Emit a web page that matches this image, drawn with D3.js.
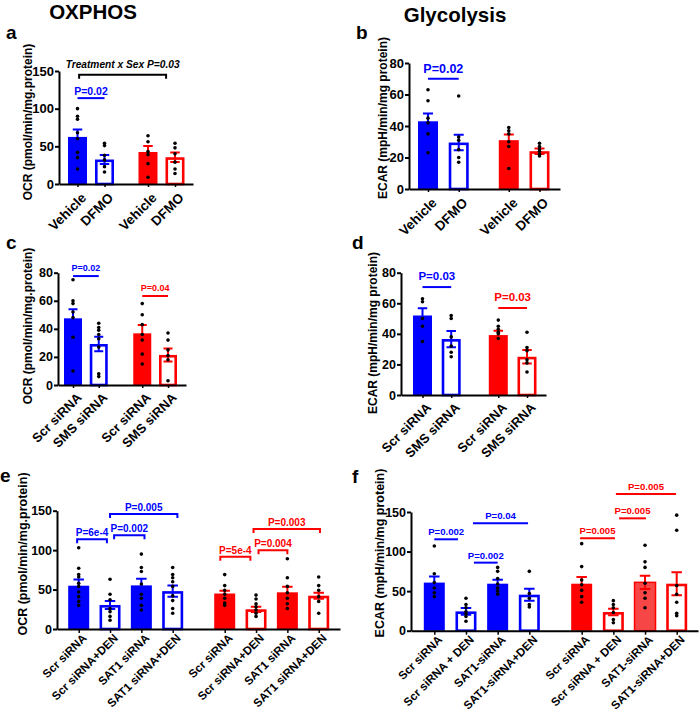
<!DOCTYPE html>
<html><head><meta charset="utf-8">
<script src="https://cdn.jsdelivr.net/npm/d3@7"></script>
<style>
body{margin:0;background:#fff}
svg text{font-family:"Liberation Sans",Arial,sans-serif;font-weight:bold}
</style>
</head><body>
<svg id="chart" width="699" height="715"></svg>
<script>
// ---------------- DATA ----------------
const catsA = ["Vehicle","DFMO","Vehicle","DFMO"];
const meanA = [62.5, 32.5, 42.5, 35.5];
const semA  = [10, 6, 8, 6.2];
const dotsA = [[100,90,86,68,60,42,35,20],[54,51,38,32,23,16],[64,56,43,39,27,9],[54,48,40,29,20,14]];
const ticksA = [0,50,100,150];
const annA = [
  {kind:"bracket", from:0.06, to:2.67, y:145, text:"Treatment x Sex P=0.03", sex:"all"},
  {kind:"line", from:0, to:1, y:114, text:"P=0.02", sex:"M"}
];

const catsB = ["Vehicle","DFMO","Vehicle","DFMO"];
const meanB = [43, 29.5, 31, 24];
const semB  = [4.9, 4.9, 3.6, 1.7];
const dotsB = [[63,56,45,42,35,23],[59,33,31,25,20,17],[39,37,35,30,27,13],[29,27,25,24,22,21]];
const ticksB = [0,20,40,60,80];
const annB = [{kind:"line", from:0, to:1, y:70, text:"P=0.02", sex:"M"}];

const catsC = ["Scr siRNA","SMS siRNA","Scr siRNA","SMS siRNA"];
const meanC = [47.5, 29.2, 36.8, 21.4];
const semC  = [6.4, 5.2, 5.9, 4.6];
const dotsC = [[75,60,58,52,48,34,10],[44,41,39,36,33,27,8,6],[58,50,43,36,32,22,15],[37,32,25,21,18,3]];
const ticksC = [0,20,40,60,80];
const annC = [
  {kind:"line", from:0, to:1, y:77.6, text:"P=0.02", sex:"M"},
  {kind:"line", from:2, to:3, y:63.4, text:"P=0.04", sex:"F"}
];

const catsD = ["Scr siRNA","SMS siRNA","Scr siRNA","SMS siRNA"];
const meanD = [52, 36.6, 39.2, 25];
const semD  = [4.8, 5.3, 2.8, 4.4];
const dotsD = [[63,61,50,45,35],[52,50,38,32,28,25],[49,45,43,41,40,37],[41,31,29,23,21,15]];
const ticksD = [0,20,40,60,80];
const annD = [
  {kind:"line", from:0, to:1, y:70.6, text:"P=0.03", sex:"M"},
  {kind:"line", from:2, to:3, y:56.9, text:"P=0.03", sex:"F"}
];

const catsE = ["Scr siRNA","Scr siRNA+DEN","SAT1 siRNA","SAT1 siRNA+DEN","Scr siRNA","Scr siRNA+DEN","SAT1 siRNA","SAT1 siRNA+DEN"];
const meanE = [54.9, 30.4, 55.3, 48, 45, 25, 46.5, 42.2];
const semE  = [8, 5, 8.5, 7, 3.6, 3.3, 7, 3.8];
const dotsE = [
  [103,77,69,66,58,54,47,41,35,30],
  [63,44,37,26,22,16,11],
  [95,78,73,57,44,39,30,24],
  [78,69,65,60,54,42,36,26,20],
  [69,55,49,44,39,33,30],
  [43,38,32,28,24,20,16],
  [89,65,54,46,39,32,26],
  [66,55,49,41,35,20]
];
const ticksE = [0,50,100,150];
const annE = [
  {kind:"bracket", from:-0.05, to:0.9, y:113.7, text:"P=6e-4", sex:"M"},
  {kind:"bracket", from:1.13, to:2.1, y:119, text:"P=0.002", sex:"M"},
  {kind:"bracket", from:1, to:3.15, y:145.8, text:"P=0.005", sex:"M"},
  {kind:"bracket", from:3.86, to:4.82, y:91.7, text:"P=5e-4", sex:"F"},
  {kind:"bracket", from:5.08, to:6, y:100, text:"P=0.004", sex:"F"},
  {kind:"bracket", from:4.92, to:7.04, y:126.8, text:"P=0.003", sex:"F"}
];

const catsF = ["Scr siRNA","Scr siRNA + DEN","SAT1-siRNA","SAT1-siRNA+DEN","Scr siRNA","Scr siRNA + DEN","SAT1-siRNA","SAT1-siRNA+DEN"];
const meanF = [60.8, 24.4, 59.4, 45.5, 59.4, 23.6, 61.1, 59.4];
const semF  = [7.6, 4.3, 5, 7.5, 8.4, 4.2, 8.4, 14.6];
const dotsF = [
  [107,72,61,54,48,43],
  [41,33,29,24,21,18,12],
  [80,75,66,59,54,50,46],
  [75,47,41,33,30],
  [110,81,64,58,51,43,36],
  [38,33,29,23,14,10],
  [108,87,80,60,48,41,29],
  [146,127,57,46,36,22,19]
];
const ticksF = [0,50,100,150];
const annF = [
  {kind:"line", from:0, to:0.75, y:115.5, text:"P=0.002", sex:"M"},
  {kind:"line", from:1.25, to:2.0, y:86, text:"P=0.002", sex:"M"},
  {kind:"line", from:1.22, to:2.96, y:135.7, text:"P=0.04", sex:"M"},
  {kind:"line", from:3.95, to:5.05, y:116.8, text:"P=0.005", sex:"F"},
  {kind:"line", from:5.18, to:6.03, y:142, text:"P=0.005", sex:"F"},
  {kind:"line", from:5.08, to:6.98, y:172.8, text:"P=0.005", sex:"F"}
];

const labelOCR = "OCR (pmol/min/mg.protein)";
const labelECAR = "ECAR (mpH/min/mg protein)";

// ---------------- STYLE / LAYOUT ----------------
const BLUE = "#0000ff", RED = "#ff0000", LIGHTRED = "#f64646";
const svg = d3.select("#chart");

const panels = [
  {letter:"a", cats:catsA, means:meanA, sems:semA, dots:dotsA, ticks:ticksA, ann:annA, ylab:labelOCR,
   L:{ax:59, xEnd:193, y0:184, yTop:71, c0:77.5, c1:175, gap:0.61, bw:19, ylx:28, yly:122, xfs:13.5, tfs:13, yfs:12, pfs:10.5, pgap:3, lx:6, ly:39, xly:8}},
  {letter:"b", cats:catsB, means:meanB, sems:semB, dots:dotsB, ticks:ticksB, ann:annB, ylab:labelECAR,
   L:{ax:409, xEnd:560, y0:189, yTop:63, c0:428, c1:539.5, gap:0.63, bw:20, ylx:383, yly:118, xfs:13.5, tfs:13, yfs:12, pfs:12.5, pgap:6, lx:356, ly:39, xly:8}},
  {letter:"c", cats:catsC, means:meanC, sems:semC, dots:dotsC, ticks:ticksC, ann:annC, ylab:labelOCR,
   L:{ax:58, xEnd:186, y0:385, yTop:272.7, c0:73, c1:168, gap:0.69, bw:18, ylx:28, yly:326, xfs:13, tfs:12.5, yfs:12, pfs:9, pgap:5, lx:6, ly:248.5, xly:7}},
  {letter:"d", cats:catsD, means:meanD, sems:semD, dots:dotsD, ticks:ticksD, ann:annD, ylab:labelECAR,
   L:{ax:401, xEnd:546, y0:395, yTop:272.7, c0:422.5, c1:527, gap:0.64, bw:19, ylx:373, yly:333, xfs:13, tfs:12.5, yfs:12, pfs:11.5, pgap:7.5, lx:352, ly:248.5, xly:7}},
  {letter:"e", cats:catsE, means:meanE, sems:semE, dots:dotsE, ticks:ticksE, ann:annE, ylab:labelOCR,
   L:{ax:57, xEnd:340, y0:629, yTop:510.7, c0:78.7, c1:318.7, gap:0.66, bw:21, ylx:23, yly:554, xfs:11.6, tfs:12.5, yfs:12.5, pfs:10, pgap:3, lx:0, ly:482, tickDrop:4, xly:4}},
  {letter:"f", cats:catsF, means:meanF, sems:semF, dots:dotsF, ticks:ticksF, ann:annF, ylab:labelECAR,
   L:{ax:411, xEnd:698, y0:630.7, yTop:512, c0:434.3, c1:676.7, gap:0.653, bw:21, ylx:380, yly:553, xfs:11.6, tfs:12.5, yfs:12.5, pfs:9.6, pgap:4, lx:352, ly:482.5, lightIdx:6, tickDrop:4, xly:4}}
];

function drawPanel(P){
  const L = P.L;
  const g = svg.append("g");
  const n = P.cats.length, half = n/2;
  const slot = v => v + (v > half - 0.5 ? L.gap : 0);
  const x = d3.scaleLinear().domain([0, slot(n-1)]).range([L.c0, L.c1]);
  const X = v => x(slot(v));
  const yMax = P.ticks[P.ticks.length-1];
  const y = d3.scaleLinear().domain([0, yMax]).range([L.y0, L.yTop]);

  const bars = P.means.map((m,i)=>({i, m, s:P.sems[i], dots:P.dots[i], cat:P.cats[i],
    col: i < half ? BLUE : RED, filled: i % 2 === 0}));

  const sw = 2.6;
  g.selectAll("rect.bar").data(bars).join("rect").attr("class","bar")
    .attr("x", d => X(d.i) - L.bw/2 + (d.filled ? 0 : sw/2))
    .attr("width", d => L.bw - (d.filled ? 0 : sw))
    .attr("y", d => y(d.m) + (d.filled ? 0 : sw/2))
    .attr("height", d => y(0) - y(d.m) - (d.filled ? 0 : sw/2))
    .attr("fill", d => d.filled ? ((L.lightIdx === d.i) ? LIGHTRED : d.col) : "#fff")
    .attr("stroke", d => d.filled ? ((L.lightIdx === d.i) ? d.col : "none") : d.col)
    .attr("stroke-width", d => d.filled ? 1.5 : sw);

  const cap = L.bw * 0.5;
  g.selectAll("path.eb").data(bars).join("path").attr("class","eb")
    .attr("stroke", d => d.col).attr("stroke-width", 2).attr("fill","none")
    .attr("d", d => {
      const cx = X(d.i), t = y(d.m + d.s), b = y(d.m - d.s);
      return `M${cx},${t}V${b}M${cx-cap/2},${t}H${cx+cap/2}M${cx-cap/2},${b}H${cx+cap/2}`;
    });

  g.selectAll("g.dots").data(bars).join("g").attr("class","dots")
    .selectAll("circle").data(d => d.dots.map(v => ({v, i:d.i}))).join("circle")
    .attr("cx", d => X(d.i)).attr("cy", d => y(d.v)).attr("r", 1.8).attr("fill", "#000");

  const ya = g.append("g").attr("transform", `translate(${L.ax},0)`)
    .call(d3.axisLeft(y).tickValues(P.ticks).tickSize(4).tickSizeOuter(0).tickPadding(1));
  ya.select(".domain").attr("stroke-width", 2).attr("stroke","#000");
  ya.selectAll(".tick line").attr("stroke-width", 2).attr("stroke","#000");
  ya.selectAll(".tick text").attr("font-size", L.tfs).attr("font-family", '"Liberation Sans",Arial,sans-serif')
    .attr("font-weight","bold").attr("fill","#000");

  const xa = d3.scaleLinear().domain([x.invert(L.ax), x.invert(L.xEnd)]).range([L.ax, L.xEnd]);
  const xg = g.append("g").attr("transform", `translate(0,${L.y0})`)
    .call(d3.axisBottom(xa).tickValues(bars.map(d => slot(d.i))).tickFormat(() => "").tickSize(L.tickDrop || 3).tickSizeOuter(0));
  xg.select(".domain").attr("stroke-width", 2).attr("stroke","#000");
  xg.selectAll(".tick line").attr("stroke-width", 1.5).attr("stroke","#000");

  g.selectAll("text.xl").data(bars).join("text").attr("class","xl")
    .attr("transform", d => `translate(${X(d.i)+3},${L.y0+L.xly}) rotate(-45)`)
    .attr("text-anchor","end").attr("dy","0.7em").attr("font-size", L.xfs).attr("fill","#000")
    .text(d => d.cat);

  g.append("text").attr("transform", `translate(${L.ylx},${L.yly}) rotate(-90)`)
    .attr("text-anchor","middle").attr("dominant-baseline","central")
    .attr("font-size", L.yfs).attr("fill","#000").text(P.ylab);

  const colOf = s => s === "M" ? BLUE : s === "F" ? RED : "#000";
  g.selectAll("g.an").data(P.ann).join("g").attr("class","an").each(function(a){
    const gg = d3.select(this);
    const x1 = X(a.from), x2 = X(a.to), yy = y(a.y), c = colOf(a.sex);
    const tk = 4;
    const d = a.kind === "bracket" ? `M${x1},${yy+tk}V${yy}H${x2}V${yy+tk}` : `M${x1},${yy}H${x2}`;
    gg.append("path").attr("d", d).attr("stroke", c).attr("stroke-width", 2).attr("fill","none");
    const italic = a.sex === "all";
    gg.append("text").attr("x", (x1+x2)/2).attr("y", yy - (italic ? 7 : L.pgap))
      .attr("text-anchor","middle").attr("font-size", italic ? 10.2 : L.pfs)
      .attr("font-style", italic ? "italic" : "normal").attr("fill", c).text(a.text);
  });

  svg.append("text").attr("x", L.lx).attr("y", L.ly).attr("font-size", 19).attr("fill","#000").text(P.letter);
}

panels.forEach(drawPanel);

svg.append("text").attr("x", 93).attr("y", 19).attr("text-anchor","middle")
  .attr("font-size", 20.5).attr("fill","#000").text("OXPHOS");
svg.append("text").attr("x", 455).attr("y", 22).attr("text-anchor","middle")
  .attr("font-size", 20.5).attr("fill","#000").text("Glycolysis");
</script>
</body></html>
